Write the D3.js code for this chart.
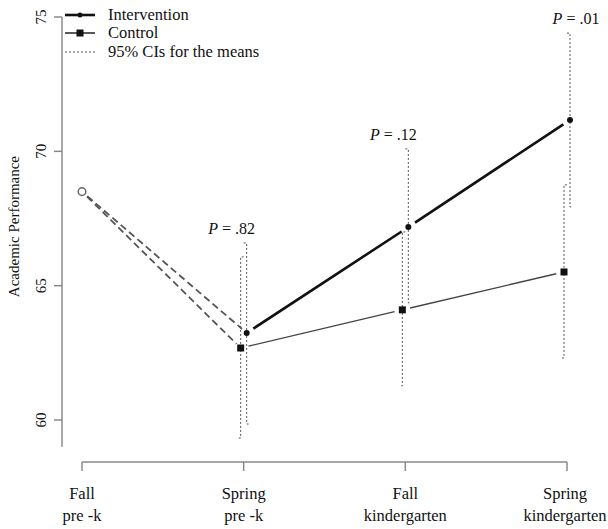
<!DOCTYPE html>
<html><head><meta charset="utf-8">
<script src="https://cdn.jsdelivr.net/npm/d3@7"></script>
<style>body{margin:0;background:#fff}svg{display:block}</style>
</head><body>
<svg id="c" width="608" height="529"></svg>
<script>
const categories = [["Fall","pre -k"],["Spring","pre -k"],["Fall","kindergarten"],["Spring","kindergarten"]];
const yTicks = [60,65,70,75];
const baseline = 68.5;
const intervention = [null, 63.24, 67.18, 71.17];
const control = [null, 62.68, 64.1, 65.51];
const interventionCI = [null, [59.85,66.59],[64.36,70.09],[67.93,74.4]];
const controlCI = [null, [59.33,66.07],[61.27,67.0],[62.31,68.75]];
const pLabels = [null, ".82", ".12", ".01"];

const svg = d3.select("#c");
const font = "'Liberation Serif', 'Times New Roman', serif";
const x = d3.scalePoint().domain(d3.range(categories.length)).range([82,567]);
const y = d3.scaleLinear().domain([60,75]).range([420,17]);
const off = 3;
const axisColor = "#8a8a8a";

// y axis
svg.append("line").attr("x1",62).attr("x2",62).attr("y1",y(75)).attr("y2",y(59.0)).attr("stroke",axisColor).attr("stroke-width",1.5);
yTicks.forEach(t=>{
  svg.append("line").attr("x1",54).attr("x2",62).attr("y1",y(t)).attr("y2",y(t)).attr("stroke",axisColor).attr("stroke-width",1.5);
  svg.append("text").attr("transform",`translate(46,${y(t)}) rotate(-90)`).attr("text-anchor","middle")
    .attr("font-family",font).attr("font-size",15).attr("fill","#111").text(t);
});
svg.append("text").attr("transform",`translate(19,${y(67.2)}) rotate(-90)`).attr("text-anchor","middle")
  .attr("font-family",font).attr("font-size",15).attr("fill","#111").text("Academic Performance");

// x axis
const xAxisY = 462;
svg.append("line").attr("x1",x(0)).attr("x2",x(3)).attr("y1",xAxisY).attr("y2",xAxisY).attr("stroke",axisColor).attr("stroke-width",1.5);
categories.forEach((c,i)=>{
  svg.append("line").attr("x1",x(i)).attr("x2",x(i)).attr("y1",xAxisY).attr("y2",xAxisY+9).attr("stroke",axisColor).attr("stroke-width",1.5);
  const cx = Math.min(x(i), 565);
  const t = svg.append("text").attr("text-anchor","middle").attr("font-family",font).attr("font-size",16.5).attr("fill","#111");
  t.append("tspan").attr("x",cx).attr("y",499).text(c[0]);
  t.append("tspan").attr("x",cx).attr("y",521).text(c[1]);
});

function seg(p1,p2,g1,g2,attrs){
  const dx=p2[0]-p1[0], dy=p2[1]-p1[1], L=Math.hypot(dx,dy);
  const l = svg.append("line")
    .attr("x1",p1[0]+dx/L*g1).attr("y1",p1[1]+dy/L*g1)
    .attr("x2",p2[0]-dx/L*g2).attr("y2",p2[1]-dy/L*g2);
  Object.entries(attrs).forEach(([k,v])=>l.attr(k,v));
}

// CIs
function ci(xp, lo, hi, dir){
  const g = {stroke:"#555","stroke-width":1,"stroke-dasharray":"2,2",fill:"none"};
  const p = svg.append("path").attr("d",`M${xp+dir*3},${y(hi)}H${xp}V${y(lo)}H${xp-dir*3}`);
  Object.entries(g).forEach(([k,v])=>p.attr(k,v));
}
for(let i=1;i<4;i++){
  ci(x(i)-off, controlCI[i][0], controlCI[i][1], 1);
  ci(x(i)+off, interventionCI[i][0], interventionCI[i][1], -1);
}

// dashed from baseline
const b = [x(0), y(baseline)];
seg(b,[x(1)+off,y(intervention[1])],7,6,{stroke:"#555","stroke-width":1.8,"stroke-dasharray":"7,4"});
seg(b,[x(1)-off,y(control[1])],7,6,{stroke:"#555","stroke-width":1.8,"stroke-dasharray":"7,4"});

// lines
for(let i=1;i<3;i++){
  seg([x(i)+off,y(intervention[i])],[x(i+1)+off,y(intervention[i+1])],8,8,{stroke:"#111","stroke-width":2.6});
  seg([x(i)-off,y(control[i])],[x(i+1)-off,y(control[i+1])],8,8,{stroke:"#444","stroke-width":1.4});
}

// markers
svg.append("circle").attr("cx",b[0]).attr("cy",b[1]).attr("r",3.8).attr("fill","none").attr("stroke","#666").attr("stroke-width",1.5);
for(let i=1;i<4;i++){
  svg.append("circle").attr("cx",x(i)+off).attr("cy",y(intervention[i])).attr("r",3).attr("fill","#111");
  svg.append("rect").attr("x",x(i)-off-3.5).attr("y",y(control[i])-3.5).attr("width",7).attr("height",7).attr("fill","#111");
  const tx = svg.append("text").attr("x",x(i)-(i===3?-9:12)).attr("y",y(d3.max([interventionCI[i][1],controlCI[i][1]]))-9)
    .attr("text-anchor","middle").attr("font-family",font).attr("font-size",16).attr("fill","#111");
  tx.append("tspan").attr("font-style","italic").text("P");
  tx.append("tspan").text(" = "+pLabels[i]);
}

// legend
const lg = [
  {label:"Intervention", y:15, w:2.6, dash:null, mark:"circle"},
  {label:"Control", y:33, w:1.4, dash:null, mark:"rect"},
  {label:"95% CIs for the means", y:52, w:1, dash:"2,2", mark:null}
];
lg.forEach(d=>{
  const l = svg.append("line").attr("x1",65).attr("x2",95).attr("y1",d.y).attr("y2",d.y)
    .attr("stroke",d.mark?"#111":"#555").attr("stroke-width",d.w);
  if(d.dash) l.attr("stroke-dasharray",d.dash);
  if(d.mark==="circle") svg.append("circle").attr("cx",80).attr("cy",d.y).attr("r",2.5).attr("fill","#111");
  if(d.mark==="rect") svg.append("rect").attr("x",76.5).attr("y",d.y-3.5).attr("width",7).attr("height",7).attr("fill","#111");
  svg.append("text").attr("x",108).attr("y",d.y+5).attr("font-family",font).attr("font-size",16.5).attr("fill","#111").text(d.label);
});
</script>
</body></html>
